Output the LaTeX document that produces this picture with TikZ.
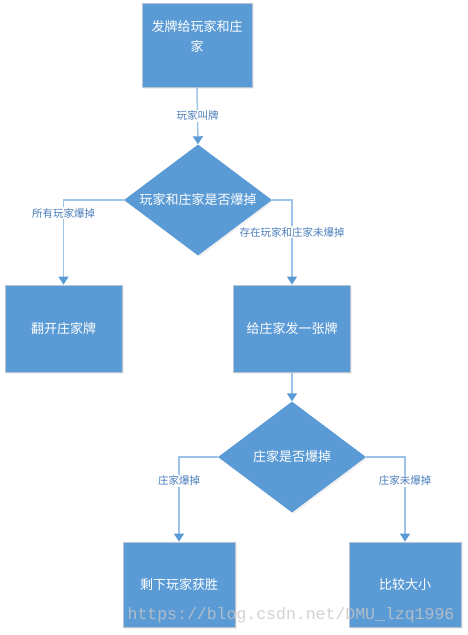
\documentclass[tikz,border=0pt]{standalone}
\usepackage{fontspec}
\newfontfamily\cjk{Noto Sans CJK SC}
\newfontfamily\wmfont{Liberation Mono}
\usetikzlibrary{shapes.geometric,arrows.meta,shadows}

\definecolor{boxblue}{HTML}{5B9BD5}
\definecolor{boxrim}{HTML}{B8C4D2}
\definecolor{linkblue}{HTML}{9DC3E6}
\definecolor{lblblue}{HTML}{4A7EBB}

\tikzset{
  blockbox/.style={rectangle, fill=boxblue, draw=boxrim, line width=0.8pt,
    text=white, font=\cjk\fontsize{13}{20}\selectfont, align=center,
    drop shadow={opacity=0.12, shadow xshift=1.5pt, shadow yshift=-1.5pt}},
  decision/.style={diamond, fill=boxblue, draw=none, text=white, aspect=1.33,
    inner sep=0pt, font=\cjk\fontsize{13}{16}\selectfont,
    minimum width=148pt, minimum height=111pt,
    drop shadow={opacity=0.12, shadow xshift=1.5pt, shadow yshift=-1.5pt}},
  arr/.style={draw=linkblue, line width=1.5pt,
    -{Triangle[width=10pt,length=8pt,color=boxblue]}},
  lbl/.style={fill=white, inner sep=1pt, text=lblblue,
    font=\cjk\fontsize{10.5}{12}\selectfont}
}

\begin{document}
\begin{tikzpicture}[x=1pt, y=-1pt]
	\useasboundingbox (0,0) rectangle (467,635);
	% blocks
	\node[blockbox, minimum width=110pt, minimum height=84pt, text depth=18pt] (deal) at (197,45) {发牌给玩家和庄\\家};
	\node[decision] (bust) at (198,200) {玩家和庄家是否爆掉};
	\node[blockbox, minimum width=117pt, minimum height=87pt] (reveal) at (63.5,328.5) {翻开庄家牌};
	\node[blockbox, minimum width=117pt, minimum height=87pt] (hit) at (292,328.5) {给庄家发一张牌};
	\node[decision] (dbust) at (292,457) {庄家是否爆掉};
	\node[blockbox, minimum width=112pt, minimum height=85pt] (win) at (179,584.5) {剩下玩家获胜};
	\node[blockbox, minimum width=112pt, minimum height=85pt] (compare) at (405,584.5) {比较大小};
	% links
	\draw[arr] (deal.south) -- node[lbl] {玩家叫牌} (bust.north);
	\draw[arr] (bust.west) -| node[lbl, pos=0.577] {所有玩家爆掉} (reveal.north);
	\draw[arr] (bust.east) -| node[lbl, pos=0.69] {存在玩家和庄家未爆掉} (hit.north);
	\draw[arr] (hit.south) -- (dbust.north);
	\draw[arr] (dbust.west) -| node[lbl, pos=0.64] {庄家爆掉} (win.north);
	\draw[arr] (dbust.east) -| node[lbl, pos=0.64] {庄家未爆掉} (compare.north);
	% watermark
	\node[text=gray!45, opacity=0.8, font=\wmfont\fontsize{16.5}{18}\selectfont] (mark) at (291,615) {https://blog.csdn.net/DMU\_lzq1996};
\end{tikzpicture}
\end{document}
